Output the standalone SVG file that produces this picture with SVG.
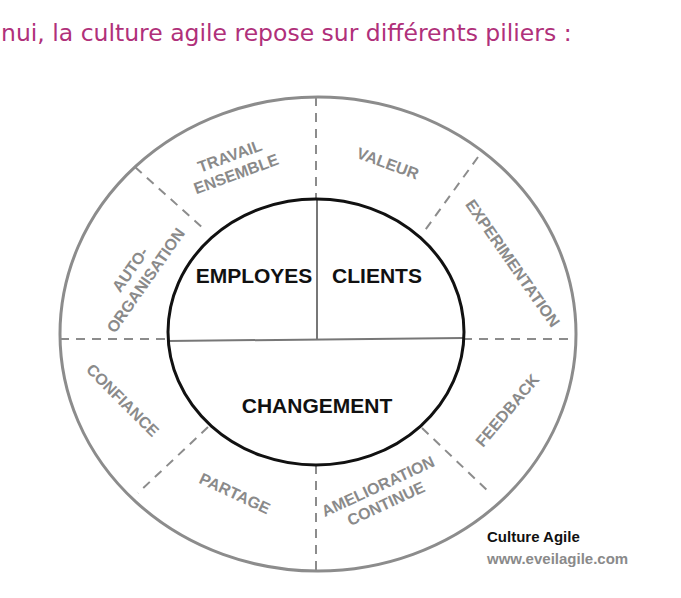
<svg xmlns="http://www.w3.org/2000/svg" width="681" height="598" viewBox="0 0 681 598">
<style>
.o{fill:none;stroke:#8c8c8c;stroke-width:3}
.d{stroke:#8c8c8c;stroke-width:2;stroke-dasharray:9,7;fill:none}
.s{stroke:#777;stroke-width:2;fill:none}
.l{font-family:"Liberation Sans",Arial,sans-serif;font-weight:bold;font-size:16px;fill:#8a8a8a;text-anchor:middle}
.c{font-family:"Liberation Sans",Arial,sans-serif;font-weight:bold;font-size:21px;fill:#111;text-anchor:middle}
</style>
<rect width="681" height="598" fill="#fff"/>
<text x="1" y="41" font-family="DejaVu Sans,sans-serif" font-size="23.5" fill="#b0307a">nui, la culture agile repose sur différents piliers :</text>
<g id="outer"><ellipse class="o" cx="318" cy="334" rx="258" ry="237"/></g>
<g id="connectors">
<line class="d" x1="316" y1="97" x2="316" y2="199"/>
<line class="d" x1="316" y1="465" x2="316" y2="570"/>
<line class="d" x1="60" y1="339" x2="168" y2="339"/>
<line class="d" x1="463" y1="339" x2="577" y2="339"/>
<line class="d" x1="135" y1="167" x2="205" y2="230"/>
<line class="d" x1="478" y1="157" x2="423" y2="233"/>
<line class="d" x1="208" y1="427" x2="138" y2="493"/>
<line class="d" x1="422" y1="428" x2="490" y2="493"/>
<line class="s" x1="317" y1="199" x2="317" y2="339"/>
<line class="s" x1="168" y1="341" x2="463" y2="338"/>
</g>
<g id="inner"><ellipse cx="316" cy="332" rx="148" ry="133" fill="none" stroke="#111" stroke-width="3"/></g>
<g id="employes"><text class="c" x="254" y="283">EMPLOYES</text></g>
<g id="clients"><text class="c" x="377" y="283">CLIENTS</text></g>
<g id="changement"><text class="c" x="317" y="413">CHANGEMENT</text></g>
<g id="travail" transform="translate(233,165) rotate(-20)"><text class="l" y="-4">TRAVAIL</text><text class="l" y="15">ENSEMBLE</text></g>
<g id="valeur" transform="translate(388,163) rotate(20)"><text class="l" y="6">VALEUR</text></g>
<g id="experimentation" transform="translate(513,263) rotate(55)"><text class="l" y="6">EXPERIMENTATION</text></g>
<g id="auto" transform="translate(138,275) rotate(-55)"><text class="l" y="-4">AUTO-</text><text class="l" y="15">ORGANISATION</text></g>
<g id="confiance" transform="translate(123,400) rotate(45)"><text class="l" y="6">CONFIANCE</text></g>
<g id="feedback" transform="translate(507,410) rotate(-50)"><text class="l" y="6">FEEDBACK</text></g>
<g id="partage" transform="translate(235,493) rotate(25)"><text class="l" y="6">PARTAGE</text></g>
<g id="amelioration" transform="translate(382,495) rotate(-25)"><text class="l" y="-4">AMELIORATION</text><text class="l" y="15">CONTINUE</text></g>
<text x="487" y="542" font-family="Liberation Sans,Arial,sans-serif" font-weight="bold" font-size="15" fill="#111">Culture Agile</text>
<text x="487" y="564" font-family="Liberation Sans,Arial,sans-serif" font-weight="bold" font-size="15" fill="#8a8a8a">www.eveilagile.com</text>
</svg>
